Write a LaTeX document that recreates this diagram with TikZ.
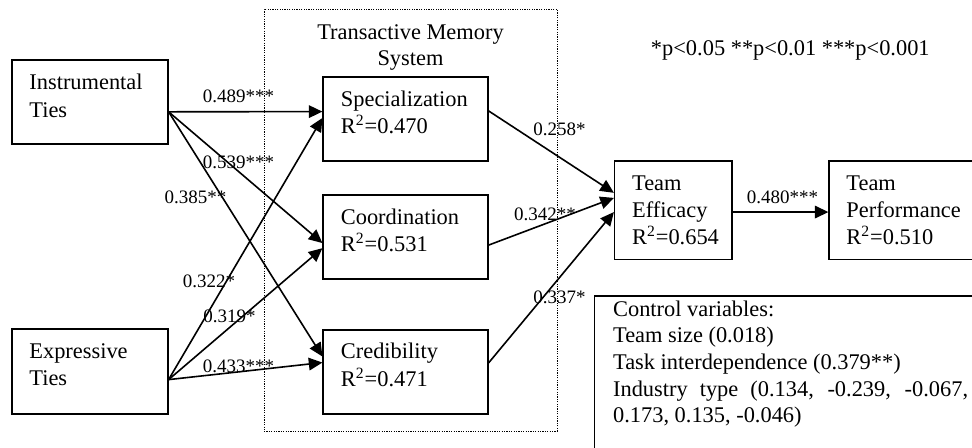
\documentclass[tikz,border=0pt]{standalone}
\usepackage{fontspec}
\setmainfont{Liberation Serif}
\usetikzlibrary{arrows.meta,calc}
\begin{document}
\begin{tikzpicture}[x=0.5pt,y=-0.5pt,
  box/.style={draw, line width=0.6pt, inner sep=0pt},
  dotbox/.style={draw, line width=0.5pt, dash pattern=on 0.6pt off 0.6pt, inner sep=0pt},
  txt/.style={anchor=base west, inner sep=0pt, font=\fontsize{11.2pt}{13.5pt}\selectfont},
  ctxt/.style={anchor=base, inner sep=0pt, font=\fontsize{11.2pt}{13.5pt}\selectfont},
  lbl/.style={anchor=base, inner sep=0pt, font=\fontsize{9.5pt}{11pt}\selectfont},
  arr/.style={line width=0.8pt, -{Triangle[length=6.8pt,width=6.3pt]}},
  ln/.style={line width=0.8pt}]
\useasboundingbox (0,0) rectangle (972,447);
\clip (0,0) rectangle (972,447);

% Transactive memory system (dotted frame)
\node[dotbox, minimum width=146.5pt, minimum height=211pt] (tms) at (410.5,220) {};
\node[ctxt] (tms1) at (410.5,39.3) {Transactive Memory};
\node[ctxt] (tms2) at (410.5,65.5) {System};

% Boxes
\node[box, minimum width=78pt, minimum height=42pt] (it) at (90,102) {};
\node[txt] (it1) at (29,89.3) {Instrumental};
\node[txt] (it2) at (29,117.3) {Ties};

\node[box, minimum width=78pt, minimum height=42.5pt] (et) at (90,371.5) {};
\node[txt] (et1) at (29,358.3) {Expressive};
\node[txt] (et2) at (29,385.7) {Ties};

\node[box, minimum width=82.5pt, minimum height=42pt] (sp) at (405.5,119) {};
\node[txt] (sp1) at (340.5,106.5) {Specialization};
\node[txt] (sp2) at (340.5,133.5) {R\textsuperscript{2}=0.470};

\node[box, minimum width=82.5pt, minimum height=42pt] (co) at (405.5,237) {};
\node[txt] (co1) at (340.5,224.5) {Coordination};
\node[txt] (co2) at (340.5,251.5) {R\textsuperscript{2}=0.531};

\node[box, minimum width=82.5pt, minimum height=42pt] (cr) at (405.5,372) {};
\node[txt] (cr1) at (340.5,358.5) {Credibility};
\node[txt] (cr2) at (340.5,386) {R\textsuperscript{2}=0.471};

\node[box, minimum width=58.75pt, minimum height=49.25pt] (te) at (673.25,210.25) {};
\node[txt] (te1) at (631.7,190.5) {Team};
\node[txt] (te2) at (631.7,217.5) {Efficacy};
\node[txt] (te3) at (631.7,244.5) {R\textsuperscript{2}=0.654};

\node[box, minimum width=85.5pt, minimum height=49.25pt] (tp) at (914.5,210.25) {};
\node[txt] (tp1) at (846,190.5) {Team};
\node[txt] (tp2) at (846,217.5) {Performance};
\node[txt] (tp3) at (846,244.5) {R\textsuperscript{2}=0.510};

% Control variables
\node[box, minimum width=202.75pt, minimum height=87pt] (cv) at (797.25,383) {};
\node[txt] (cv1) at (612.7,316.7) {Control variables:};
\node[txt] (cv2) at (612.7,342.7) {Team size (0.018)};
\node[txt] (cv3) at (612.7,369.3) {Task interdependence (0.379**)};
\node[txt] (cv4) at (612.7,396) {\makebox[177.5pt][s]{Industry type (0.134, -0.239, -0.067,}};
\node[txt] (cv5) at (612.7,422.7) {0.173, 0.135, -0.046)};

% Significance note
\node[ctxt] (sig) at (790.3,55) {*p<0.05 **p<0.01 ***p<0.001};

% Arrows
\draw[arr] ($(it.north east)!0.615!(it.south east)$) -- ($(sp.north west)!0.413!(sp.south west)$);
\draw[arr] ($(it.north east)!0.615!(it.south east)$) -- ($(co.north west)!0.571!(co.south west)$);
\draw[arr] ($(it.north east)!0.615!(it.south east)$) -- ($(cr.north west)!0.318!(cr.south west)$);
\draw[arr] ($(et.north east)!0.594!(et.south east)$) -- ($(sp.north west)!0.488!(sp.south west)$);
\draw[arr] ($(et.north east)!0.594!(et.south east)$) -- ($(co.north west)!0.631!(co.south west)$);
\draw[arr] ($(et.north east)!0.594!(et.south east)$) -- ($(cr.north west)!0.389!(cr.south west)$);
\draw[arr] ($(sp.north east)!0.405!(sp.south east)$) -- ($(te.north west)!0.325!(te.south west)$);
\draw[arr] ($(co.north east)!0.595!(co.south east)$) -- ($(te.north west)!0.376!(te.south west)$);
\draw[arr] ($(cr.north east)!0.393!(cr.south east)$) -- ($(te.north west)!0.518!(te.south west)$);
\draw[arr] ($(te.north east)!0.518!(te.south east)$) -- ($(tp.north west)!0.518!(tp.south west)$);

% Path coefficients
\node[lbl] (l1) at (238.5,102.7) {0.489***};
\node[lbl] (l2) at (238.5,168) {0.539***};
\node[lbl] (l3) at (195.5,203) {0.385**};
\node[lbl] (l4) at (209,287) {0.322*};
\node[lbl] (l5) at (229.5,322) {0.319*};
\node[lbl] (l6) at (238.5,372) {0.433***};
\node[lbl] (l7) at (559.5,135) {0.258*};
\node[lbl] (l8) at (545,220) {0.342**};
\node[lbl] (l9) at (559.5,303) {0.337*};
\node[lbl] (l10) at (782.5,203) {0.480***};
\end{tikzpicture}
\end{document}
